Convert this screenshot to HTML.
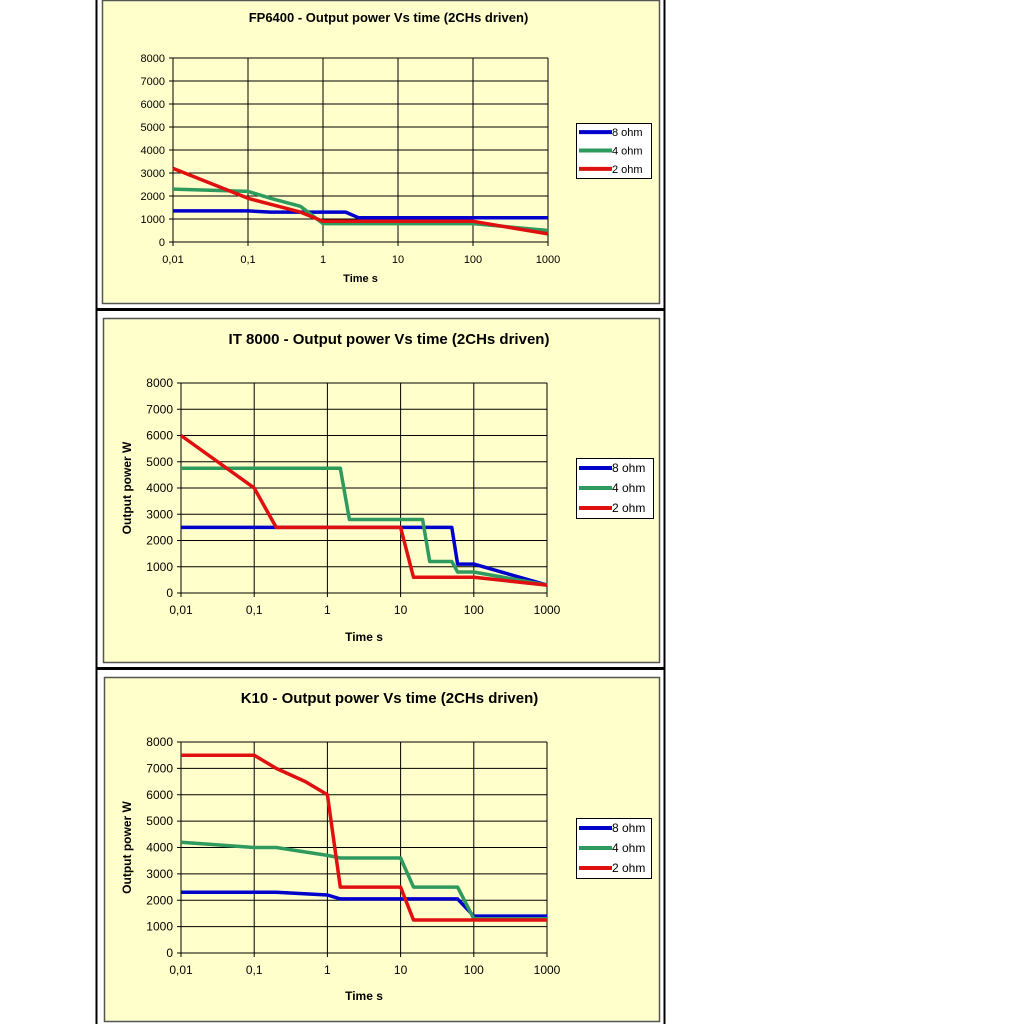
<!DOCTYPE html>
<html><head><meta charset="utf-8"><style>
html,body{margin:0;padding:0;background:#fff;width:1024px;height:1024px;overflow:hidden}
svg{display:block;font-family:"Liberation Sans",Arial,sans-serif}
</style></head><body>
<svg id="s" width="1024" height="1024" viewBox="0 0 1024 1024"></svg>
<script>
var s=document.getElementById('s'),h='';
// outer frames
h+='<rect x="96.5" y="-2" width="568" height="311" fill="none" stroke="#000" stroke-width="2"/>';
h+='<rect x="96.5" y="310" width="568" height="358" fill="none" stroke="#000" stroke-width="2"/>';
h+='<rect x="96.5" y="669" width="568" height="360" fill="none" stroke="#000" stroke-width="2"/>';
var charts=[
{box:[102,0,557,303],x0:173,x1:548,y0:242,y1:58,title:'FP6400 - Output power Vs time (2CHs driven)',ty:22,tfs:13,yl:false,xly:282,lg:[576,123,75,55],tickfs:11,
 d:[[[0.01,1350],[0.1,1350],[0.2,1300],[2,1300],[3,1050],[1000,1050]],
    [[0.01,2300],[0.1,2200],[0.2,1900],[0.5,1550],[1,800],[100,800],[1000,500]],
    [[0.01,3200],[0.1,1900],[0.5,1300],[1,900],[100,900],[1000,350]]]},
{box:[103,318,556,344],x0:181,x1:547,y0:593,y1:383,title:'IT 8000 - Output power Vs time (2CHs driven)',ty:344,tfs:15,yl:true,xly:641,lg:[576,458,77,60],tickfs:12,
 d:[[[0.01,2500],[10,2500],[50,2500],[60,1100],[100,1100],[1000,300]],
    [[0.01,4750],[1.5,4750],[2,2800],[20,2800],[25,1200],[50,1200],[60,800],[100,800],[1000,300]],
    [[0.01,6000],[0.1,4000],[0.2,2500],[10,2500],[15,600],[100,600],[1000,300]]]},
{box:[104,677,555,344],x0:181,x1:547,y0:953,y1:742,title:'K10 - Output power Vs time (2CHs driven)',ty:703,tfs:15,yl:true,xly:1000,lg:[576,818,75,60],tickfs:12,
 d:[[[0.01,2300],[0.2,2300],[1,2200],[1.5,2050],[60,2050],[100,1400],[1000,1400]],
    [[0.01,4200],[0.1,4000],[0.2,4000],[1,3700],[1.5,3600],[10,3600],[15,2500],[60,2500],[100,1300],[1000,1300]],
    [[0.01,7500],[0.1,7500],[0.2,7000],[0.5,6500],[1,6000],[1.5,2500],[10,2500],[15,1250],[1000,1250]]]}
];
var cols=['#0000cc','#2e9a5e','#e01010'],names=['8 ohm','4 ohm','2 ohm'],xl=['0,01','0,1','1','10','100','1000'];
charts.forEach(function(c){
 var b=c.box;
 h+='<rect x="'+b[0]+'.5" y="'+b[1]+'.5" width="'+b[2]+'" height="'+b[3]+'" fill="#ffffcc" stroke="#555" stroke-width="1.5"/>';
 var cx=(c.x0+c.x1)/2;
 h+='<text x="'+(b[0]+b[2]/2+8)+'" y="'+c.ty+'" font-size="'+c.tfs+'" font-weight="bold" text-anchor="middle">'+c.title+'</text>';
 function X(t){return c.x0+(Math.log10(t)+2)/5*(c.x1-c.x0);}
 function Y(v){return c.y0-(v/8000)*(c.y0-c.y1);}
 for(var i=0;i<=8;i++){var y=Y(i*1000);
  h+='<line x1="'+(c.x0-4)+'" x2="'+c.x1+'" y1="'+y+'" y2="'+y+'" stroke="#000" stroke-width="1"/>';
  h+='<text x="'+(c.x0-8)+'" y="'+(y+4)+'" font-size="'+c.tickfs+'" text-anchor="end">'+(i*1000)+'</text>';}
 for(var j=0;j<6;j++){var x=c.x0+j*(c.x1-c.x0)/5;
  h+='<line x1="'+x+'" x2="'+x+'" y1="'+c.y1+'" y2="'+(c.y0+4)+'" stroke="#000" stroke-width="1"/>';
  h+='<text x="'+x+'" y="'+(c.y0+21)+'" font-size="'+c.tickfs+'" text-anchor="middle">'+xl[j]+'</text>';}
 h+='<text x="'+cx+'" y="'+c.xly+'" font-size="'+c.tickfs+'" font-weight="bold" text-anchor="middle">Time s</text>';
 if(c.yl){var ym=(c.y0+c.y1)/2;h+='<text transform="translate(131,'+ym+') rotate(-90)" font-size="12" font-weight="bold" text-anchor="middle">Output power W</text>';}
 c.d.forEach(function(ser,k){
  var p=ser.map(function(q){return X(q[0]).toFixed(1)+','+Y(q[1]).toFixed(1)}).join(' ');
  h+='<polyline points="'+p+'" fill="none" stroke="'+cols[k]+'" stroke-width="3.5" stroke-linejoin="round"/>';});
 var g=c.lg;
 h+='<rect x="'+g[0]+'.5" y="'+g[1]+'.5" width="'+g[2]+'" height="'+g[3]+'" fill="#fff" stroke="#000" stroke-width="1"/>';
 for(var k=0;k<3;k++){var yy=g[1]+g[3]*(k+0.5)/3;
  h+='<line x1="'+(g[0]+3)+'" x2="'+(g[0]+36)+'" y1="'+yy+'" y2="'+yy+'" stroke="'+cols[k]+'" stroke-width="4"/>';
  h+='<text x="'+(g[0]+36)+'" y="'+(yy+4)+'" font-size="'+c.tickfs+'">'+names[k]+'</text>';}
});
s.innerHTML=h;
</script>
</body></html>
